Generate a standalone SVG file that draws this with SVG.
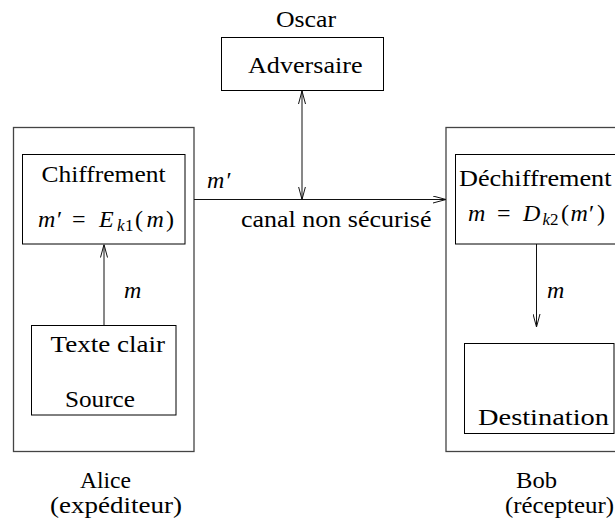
<svg xmlns="http://www.w3.org/2000/svg" width="615" height="529" viewBox="0 0 615 529">
  <style>
    .bg { fill: #ffffff; }
    .box { fill: none; stroke: #000; stroke-width: 1; }
    .outer { fill: none; stroke: #444; stroke-width: 1.3; }
    .line { fill: none; stroke: #111; stroke-width: 1; }
    text { font-family: "Liberation Serif", "Times New Roman", serif; font-size: 24px; fill: #000; }
    .it { font-style: italic; }
    .sub { font-size: 17px; font-style: italic; }
    .subn { font-size: 17px; }
  </style>
  <defs>
    <marker id="arrow" viewBox="0 0 13 8" refX="13" refY="4" markerWidth="13" markerHeight="8" markerUnits="userSpaceOnUse" orient="auto-start-reverse">
      <path d="M0,0.5 L13,4 L0,7.5" fill="none" stroke="#111" stroke-width="1"/>
    </marker>
  </defs>
  <rect class="bg" x="0" y="0" width="615" height="529"/>

  <!-- Adversary -->
  <g id="oscar">
    <text x="276" y="26.5" textLength="60" lengthAdjust="spacingAndGlyphs">Oscar</text>
    <rect class="box" x="221.5" y="37.5" width="162" height="53"/>
    <text x="248" y="72.5" textLength="114.5" lengthAdjust="spacingAndGlyphs">Adversaire</text>
  </g>

  <!-- Sender side -->
  <g id="alice">
    <rect class="outer" x="13.5" y="127.5" width="180.5" height="324"/>
    <text x="80" y="487.5" textLength="51" lengthAdjust="spacingAndGlyphs">Alice</text>
    <text x="50" y="512.5" textLength="132" lengthAdjust="spacingAndGlyphs">(expéditeur)</text>
  </g>
  <g id="chiffrement">
    <rect class="box" x="22.5" y="154.5" width="162.5" height="89.5"/>
    <text x="41.5" y="181.5" textLength="124" lengthAdjust="spacingAndGlyphs">Chiffrement</text>
    <text y="226.5"><tspan class="it" x="38">m</tspan><tspan x="57">′</tspan><tspan x="72">=</tspan><tspan class="it" x="99">E</tspan><tspan class="sub" x="117" dy="4">k</tspan><tspan class="subn" x="125">1</tspan><tspan x="135" dy="-4">(</tspan><tspan class="it" x="146.5">m</tspan><tspan x="166">)</tspan></text>
  </g>
  <g id="source">
    <rect class="box" x="31.5" y="325.5" width="144.5" height="89.5"/>
    <text x="50.5" y="352" textLength="114.5" lengthAdjust="spacingAndGlyphs">Texte clair</text>
    <text x="65" y="406.5" textLength="70" lengthAdjust="spacingAndGlyphs">Source</text>
  </g>

  <!-- Receiver side -->
  <g id="bob">
    <rect class="outer" x="446" y="127.5" width="180" height="324"/>
    <text x="516" y="487.5" textLength="41" lengthAdjust="spacingAndGlyphs">Bob</text>
    <text x="505" y="512.5" textLength="109" lengthAdjust="spacingAndGlyphs">(récepteur)</text>
  </g>
  <g id="dechiffrement">
    <rect class="box" x="455.5" y="154.5" width="170" height="89.5"/>
    <text x="459" y="186" textLength="152.5" lengthAdjust="spacingAndGlyphs">Déchiffrement</text>
    <text y="221"><tspan class="it" x="468">m</tspan><tspan x="497">=</tspan><tspan class="it" x="523">D</tspan><tspan class="sub" x="542.5" dy="4">k</tspan><tspan class="subn" x="550">2</tspan><tspan x="561" dy="-4">(</tspan><tspan class="it" x="570.5">m</tspan><tspan x="589">′</tspan><tspan x="597">)</tspan></text>
  </g>
  <g id="destination">
    <rect class="box" x="464.5" y="343.5" width="149.5" height="90"/>
    <text x="478" y="425" textLength="131" lengthAdjust="spacingAndGlyphs">Destination</text>
  </g>

  <!-- Connectors -->
  <g id="connectors">
    <line class="line" x1="104" y1="325.5" x2="104" y2="244.5" marker-end="url(#arrow)"/>
    <text class="it" x="124" y="298">m</text>
    <line class="line" x1="194" y1="199.5" x2="446" y2="199.5" marker-end="url(#arrow)"/>
    <text y="188.3"><tspan class="it" x="207">m</tspan><tspan x="226.5">′</tspan></text>
    <text x="241" y="226.5" textLength="190.5" lengthAdjust="spacingAndGlyphs">canal non sécurisé</text>
    <line class="line" x1="302" y1="91" x2="302" y2="199.5" marker-start="url(#arrow)" marker-end="url(#arrow)"/>
    <line class="line" x1="536.5" y1="244" x2="536.5" y2="327" marker-end="url(#arrow)"/>
    <text class="it" x="547" y="298">m</text>
  </g>
</svg>
